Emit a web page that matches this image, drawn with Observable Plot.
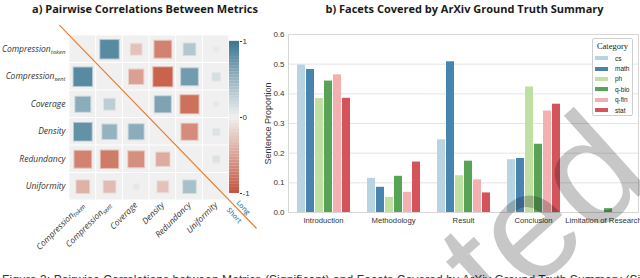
<!DOCTYPE html>
<html><head><meta charset="utf-8">
<script src="https://cdn.jsdelivr.net/npm/d3@7"></script>
<script src="https://cdn.jsdelivr.net/npm/@observablehq/plot@0.6"></script>
<style>
html,body{margin:0;padding:0;background:#fff;}
#root{position:relative;width:640px;height:278px;overflow:hidden;font-family:"Open Sans",sans-serif;}
#root svg{position:absolute;overflow:visible;}
.title{position:absolute;top:1px;font-weight:700;font-size:11px;color:#1a1a1a;white-space:nowrap;text-align:center;}
#legend{position:absolute;left:592px;top:38px;width:41px;height:78px;border:1px solid #cfcfcf;border-radius:2px;background:rgba(255,255,255,0.85);box-sizing:border-box;font-family:"Liberation Sans",Arial,sans-serif;font-size:6.5px;color:#222;}
#legend .lt{font-family:"Liberation Serif","DejaVu Serif",serif;font-size:8.5px;text-align:center;margin-top:2px;margin-bottom:2px;}
#legend .row{display:flex;align-items:center;height:10.4px;}
#legend .sw{width:13px;height:4px;margin-left:2px;margin-right:7px;}
#caption{position:absolute;left:2px;top:273px;font-family:"Liberation Sans",sans-serif;font-size:12px;color:#333;white-space:nowrap;letter-spacing:0.1px;}
</style></head><body><div id="root"></div>
<script>
// ---------- data: panel a (correlation matrix) ----------
const metrics = ["Compression_token","Compression_sent","Coverage","Density","Redundancy","Uniformity"];
const corrCompressionToken = [null, 0.84, -0.29, -0.70, 0.34, -0.06];
const corrCompressionSent  = [0.84, null, -0.51, -0.90, 0.70, 0.15];
const corrCoverage         = [0.56, 0.29, null, 0.64, -0.81, 0.06];
const corrDensity          = [0.78, 0.51, 0.56, null, -0.64, 0.11];
const corrRedundancy       = [-0.70, -0.75, -0.62, -0.44, null, 0.11];
const corrUniformity       = [-0.40, -0.34, 0.07, -0.29, 0.40, null];
const colorbarTicks = [-1, 0, 1];
const triangleLabels = ["Long", "Short"];

// ---------- data: panel b (grouped bars) ----------
const facets = ["Introduction","Methodology","Result","Conclusion","Limitation of Research"];
const categories = ["cs","math","ph","q-bio","q-fin","stat"];
const cs   = [0.497, 0.115, 0.245, 0.178, 0];
const math = [0.482, 0.085, 0.508, 0.182, 0];
const ph   = [0.384, 0.051, 0.124, 0.423, 0];
const qbio = [0.443, 0.122, 0.173, 0.230, 0.013];
const qfin = [0.464, 0.068, 0.110, 0.342, 0];
const stat = [0.385, 0.170, 0.066, 0.365, 0];
const yTicks = [0, 0.1, 0.2, 0.3, 0.4, 0.5, 0.6];
const categoryColors = ["#b8d4e2","#4884b0","#c0dfa3","#58a456","#f2b0b0","#d5535a"];

const root = document.getElementById("root");

// ---------- titles ----------
function addDiv(cls, text, style) {
  const d = document.createElement("div");
  d.className = cls; d.textContent = text; Object.assign(d.style, style); root.appendChild(d); return d;
}
addDiv("title", "a) Pairwise Correlations Between Metrics", {left: "0px", width: "290px"});
addDiv("title", "b) Facets Covered by ArXiv Ground Truth Summary", {left: "300px", width: "329px"});

// ---------- panel a ----------
const corrRows = [corrCompressionToken, corrCompressionSent, corrCoverage, corrDensity, corrRedundancy, corrUniformity];
const cells = corrRows.flatMap((row, r) => row.map((v, c) => ({row: r, col: c, value: v})));
const dots = cells.filter(d => d.value !== null);
const colorScale = {type: "linear", domain: [-1, 0, 1], range: ["#c5533b", "#f1f0ef", "#3b7793"], interpolate: "rgb"};
const diag = [{t: -0.87}, {t: 6.5}];
const labelAnchor = [{t: 5.9}];

const left = Plot.plot({
  width: 262, height: 262,
  marginTop: 35, marginBottom: 62, marginLeft: 69, marginRight: 33,
  x: {domain: [-0.5, 5.5], axis: null},
  y: {domain: [5.5, -0.5], axis: null},
  r: {type: "sqrt", domain: [0, 1], range: [0, 11.3]},
  color: colorScale,
  style: {fontFamily: "Open Sans", fontSize: "8.5px", color: "#333"},
  marks: [
    Plot.rect(cells, {x1: d => d.col - 0.5, x2: d => d.col + 0.5, y1: d => d.row - 0.5, y2: d => d.row + 0.5, fill: "#f0f0f0", inset: 0.5}),
    Plot.dot(dots, {x: "col", y: "row", r: d => Math.abs(d.value), symbol: "square", fill: "value", stroke: "value", strokeOpacity: 0.4, strokeWidth: 2}),
    Plot.axisY(d3.range(metrics.length), {anchor: "left", tickSize: 0, tickPadding: 4, tickFormat: i => metrics[i], fontStyle: "italic", fontSize: 8.5, label: null}),
    Plot.axisX(d3.range(metrics.length), {anchor: "bottom", tickSize: 0, tickPadding: 3, tickRotate: -45, tickFormat: i => metrics[i], fontStyle: "italic", fontSize: 8.5, label: null}),
    Plot.line(diag, {x: "t", y: "t", stroke: "#f07d2a", strokeWidth: 1.2}),
    Plot.text(labelAnchor, {x: "t", y: "t", text: () => triangleLabels[0], rotate: 48, dx: 3, dy: -4, fill: "#3d7fa8", fontSize: 7, fontWeight: 600}),
    Plot.text(labelAnchor, {x: "t", y: "t", text: () => triangleLabels[1], rotate: 48, dx: -6, dy: 4, fill: "#3d7fa8", fontSize: 7, fontWeight: 600})
  ]
});
left.style.left = "0px"; left.style.top = "0px";
root.appendChild(left);
// subscripts on metric names
d3.select(left).selectAll("text").each(function() {
  const t = this.textContent;
  if (t.includes("_")) {
    const [base, sub] = t.split("_");
    this.textContent = base;
    d3.select(this).append("tspan").attr("font-size", "6px").attr("dy", "0.3em").text(sub);
  }
});

// colorbar
const step = 0.04;
const stops = d3.range(-1, 1 - 1e-9, step);
const bar = Plot.plot({
  width: 32, height: 262,
  marginTop: 41, marginBottom: 69, marginLeft: 0, marginRight: 22,
  x: {domain: [0, 1], axis: null},
  y: {domain: [-1, 1], axis: null},
  color: colorScale,
  style: {fontFamily: "Liberation Sans", fontSize: "8px", color: "#333"},
  marks: [
    Plot.rect(stops, {x1: 0, x2: 1, y1: d => d, y2: d => d + step + 0.002, fill: d => d + step / 2}),
    Plot.axisY(colorbarTicks, {anchor: "right", tickSize: 2, tickPadding: 1, tickFormat: d => String(d), label: null})
  ]
});
bar.style.left = "229px"; bar.style.top = "0px";
root.appendChild(bar);

// ---------- panel b ----------
const seriesValues = [cs, math, ph, qbio, qfin, stat];
const barData = categories.flatMap((c, k) => facets.map((f, j) => ({facet: f, category: c, value: seriesValues[k][j]})));

const right = Plot.plot({
  width: 385, height: 240,
  marginTop: 34, marginBottom: 28, marginLeft: 33, marginRight: 2,
  fx: {domain: facets, padding: 0, label: null, axis: "bottom", tickSize: 0, tickPadding: 5},
  x: {domain: categories, axis: null, paddingInner: 0.14, paddingOuter: 0.82},
  y: {domain: [0, 0.6]},
  color: {domain: categories, range: categoryColors},
  style: {fontFamily: "Liberation Sans", fontSize: "7.7px", color: "#333"},
  marks: [
    Plot.gridY(yTicks, {stroke: "#e4e4e4", strokeOpacity: 1}),
    Plot.barY(barData, {fx: "facet", x: "category", y: "value", fill: "category"}),
    Plot.frame({facet: "super", stroke: "#d6d6d6"}),
    Plot.axisY(yTicks, {tickSize: 0, tickPadding: 4, tickFormat: d3.format(".1f"), label: "Sentence Proportion", labelAnchor: "center", labelArrow: "none", labelOffset: 24, fontSize: 8})
  ]
});
right.style.left = "255px"; right.style.top = "0px";
root.appendChild(right);
// larger y label
d3.select(right).selectAll("text").filter(function() { return this.textContent === "Sentence Proportion"; }).attr("font-size", "9px");

// legend
const leg = document.createElement("div");
leg.id = "legend";
const lt = document.createElement("div"); lt.className = "lt"; lt.textContent = "Category"; leg.appendChild(lt);
categories.forEach((c, i) => {
  const r = document.createElement("div"); r.className = "row";
  const sw = document.createElement("div"); sw.className = "sw"; sw.style.background = categoryColors[i];
  const tx = document.createElement("span"); tx.textContent = c;
  r.appendChild(sw); r.appendChild(tx); leg.appendChild(r);
});
root.appendChild(leg);

// caption (cut off at the bottom edge)
addDiv("", "Figure 3: Pairwise Correlations between Metrics (Significant) and Facets Covered by ArXiv Ground Truth Summary (Significant at", {}).id = "caption";

// watermark
const wm = d3.create("svg").attr("width", 640).attr("height", 278).style("left", "0px").style("top", "0px").style("pointer-events", "none");
wm.append("text").attr("transform", "translate(498,323) rotate(-42)")
  .attr("font-family", "Liberation Sans").attr("font-size", 152).attr("fill", "#000").attr("fill-opacity", 0.22).text("ted");
root.appendChild(wm.node());
</script></body></html>
